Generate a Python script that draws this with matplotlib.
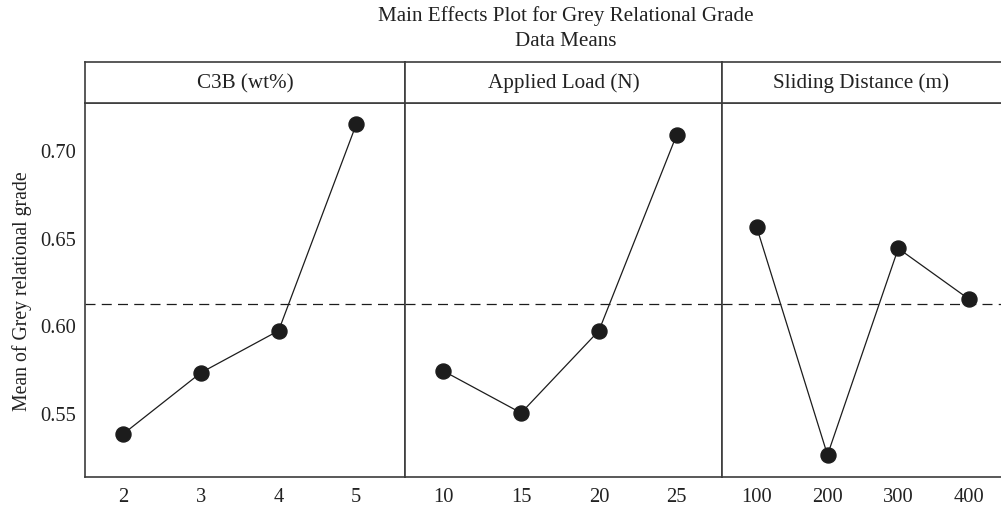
import numpy as np
import matplotlib
matplotlib.use("Agg")
import matplotlib.pyplot as plt

# Level means for each factor
c3b_levels = ["2", "3", "4", "5"]
c3b_means = [0.538, 0.573, 0.597, 0.715]

load_levels = ["10", "15", "20", "25"]
load_means = [0.574, 0.550, 0.597, 0.709]

dist_levels = ["100", "200", "300", "400"]
dist_means = [0.656, 0.526, 0.644, 0.615]

factor_names = ["C3B (wt%)", "Applied Load (N)", "Sliding Distance (m)"]
grand_mean = 0.612

y_ticks = [0.55, 0.60, 0.65, 0.70]

plt.rcParams["font.family"] = ["Liberation Serif", "DejaVu Serif"]

ink = "#1c1c1c"
frame = "#3c3c3c"
txt = "#222222"

fig = plt.figure(figsize=(10.01, 5.06), dpi=100)

# panel geometry in figure fractions
lefts = [0.0854, 0.4046, 0.7210]
rights = [0.4046, 0.7210, 1.0]
bottom, top, head_top = 0.0553, 0.7945, 0.8755
xlims = [(0.514, 4.627), (0.508, 4.578), (0.505, 4.452)]

panels = [(c3b_levels, c3b_means), (load_levels, load_means), (dist_levels, dist_means)]

ax0 = None
for i, (levels, means) in enumerate(panels):
    w = rights[i] - lefts[i]
    ax = fig.add_axes([lefts[i], bottom, w, top - bottom], sharey=ax0)
    if ax0 is None:
        ax0 = ax
    x = np.arange(1, len(levels) + 1)
    ax.plot(x, means, color=ink, lw=0.9, marker="o", markersize=10.8,
            markerfacecolor=ink, markeredgecolor=ink, zorder=3)
    ax.axhline(grand_mean, color=ink, lw=0.9, dashes=(8, 5), zorder=2)
    ax.set_xlim(*xlims[i])
    ax.set_xticks(x)
    ax.set_xticklabels(levels)
    ax.set_ylim(0.5134, 0.7271)
    ax.tick_params(length=0, labelsize=14.8, colors=txt)
    ax.tick_params(axis="x", pad=7.5)
    ax.tick_params(axis="y", pad=7)
    for sp in ax.spines.values():
        sp.set_color(frame)
        sp.set_linewidth(1.2)
    if i == 2:
        ax.spines["right"].set_visible(False)
    if i == 0:
        ax.set_yticks(y_ticks)
        ax.set_yticklabels([f"{v:.2f}" for v in y_ticks])
        ax.set_ylabel("Mean of Grey relational grade", fontsize=14.2,
                      color=txt, labelpad=6)
    else:
        ax.tick_params(axis="y", labelleft=False)

    # header strip with factor name
    hx = fig.add_axes([lefts[i], top, w, head_top - top])
    hx.set_xticks([])
    hx.set_yticks([])
    for sp in hx.spines.values():
        sp.set_color(frame)
        sp.set_linewidth(1.2)
    if i == 2:
        hx.spines["right"].set_visible(False)
    hx.text(0.5, 0.5, factor_names[i], ha="center", va="center",
            fontsize=15.2, color=txt, transform=hx.transAxes)

fig.text(0.5654, 0.968, "Main Effects Plot for Grey Relational Grade",
         ha="center", va="center", fontsize=15.2, color=txt)
fig.text(0.5654, 0.9176, "Data Means", ha="center", va="center",
         fontsize=15.2, color=txt)

fig.savefig("out.png", dpi=100)
